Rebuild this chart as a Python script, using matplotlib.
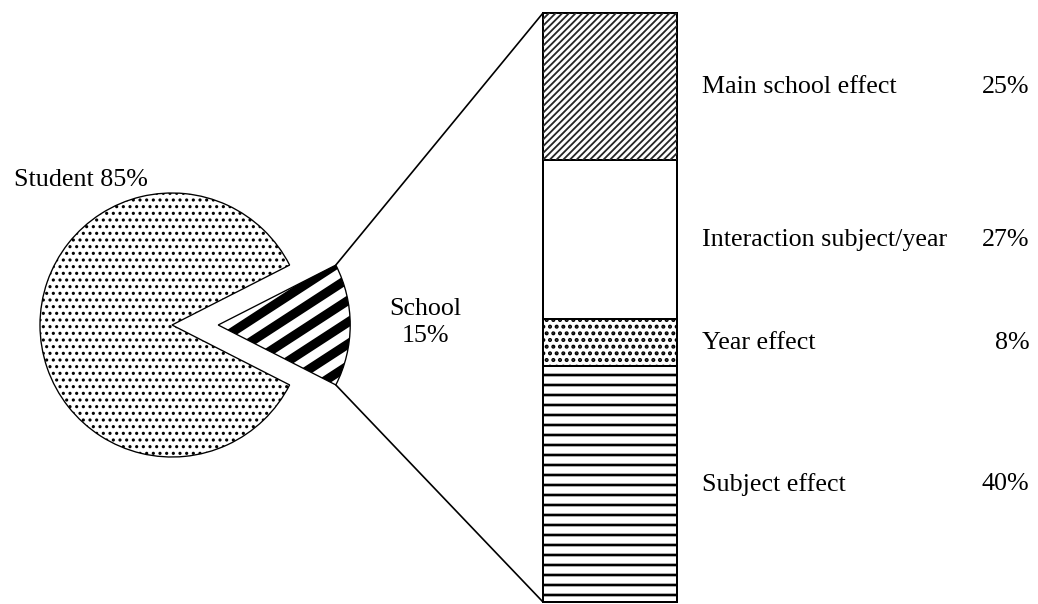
import numpy as np
import matplotlib.pyplot as plt
from matplotlib.patches import ConnectionPatch

plt.rcParams['font.family'] = ['Liberation Serif', 'DejaVu Serif']

# pie: school vs student share
pie_labels = ['School', 'Student']
pie_values = [15, 85]

# bar: breakdown of the school share, bottom to top
bar_labels = ['Subject effect', 'Year effect', 'Interaction subject/year', 'Main school effect']
bar_values = [40, 8, 27, 25]
bar_hatches = ['--', '...', '', '']

W, H, DPI = 1038, 604, 120
FS = 15.6
fig = plt.figure(figsize=(W / DPI, H / DPI), dpi=DPI)


def px_axes(x0, y0, x1, y1):
    # axes from a pixel box (top-left origin)
    return fig.add_axes((x0 / W, 1 - y1 / H, (x1 - x0) / W, (y1 - y0) / H))


R = 132
cx, cy = 172, 325
ax_pie = px_axes(cx - 1.05 * R, cy - 1.05 * R, cx + 1.4 * R, cy + 1.05 * R)
ax_bar = px_axes(543, 13, 677, 602)

# pie
plt.rcParams['hatch.linewidth'] = 1.1
wedges, _ = ax_pie.pie(pie_values, startangle=-pie_values[0] / 100 * 180,
                       explode=[0.35, 0], colors=['none', 'white'],
                       wedgeprops=dict(edgecolor='black', linewidth=0.8))
ax_pie.set_xlim(-1.05, 1.4)
ax_pie.set_ylim(-1.05, 1.05)
ax_pie.axis('off')

student = wedges[1]
student.set_hatch('...')
school = wedges[0]

# thick slanted stripes inside the school slice
ang = np.deg2rad(33)
xs = np.array([-1.0, 2.5])
for c in np.arange(-2.0, 2.0, 0.165):
    ln, = ax_pie.plot(xs, np.tan(ang) * xs + c, color='black', lw=5.5,
                      solid_capstyle='butt', zorder=0.5)
    ln.set_clip_path(school)

ax_pie.text(-0.689, 1.098, f'{pie_labels[1]} {pie_values[1]}%', ha='center', va='center', fontsize=FS)
ax_pie.text(1.917, 0.02, f'{pie_labels[0]}\n{pie_values[0]}%', ha='center', va='center',
            fontsize=FS, linespacing=1.3)

# stacked bar
plt.rcParams['hatch.linewidth'] = 1.6
bottoms = np.concatenate([[0], np.cumsum(bar_values)[:-1]])
bars = ax_bar.bar(0, bar_values, width=1, bottom=bottoms, color='white',
                  edgecolor='black', linewidth=1.2, clip_on=False, zorder=1)
for b, h in zip(bars, bar_hatches):
    b.set_hatch(h)
ax_bar.set_xlim(-0.5, 0.5)
ax_bar.set_ylim(0, sum(bar_values))
ax_bar.axis('off')

# fine 45 degree lines for the main school effect (drawn in axes fraction)
bw, bh = 134, 589
k = bw / bh
xs = np.array([0.0, 1.0])
for off in np.arange(-1.0, bh / bw + 1.0, 6.7 / bw):
    ln, = ax_bar.plot(xs, (xs + off) * k, transform=ax_bar.transAxes,
                      color='0.15', lw=1.1, zorder=2)
    ln.set_clip_path(bars[3])

tr = ax_bar.get_yaxis_transform()
for b, lab, v in zip(bars, bar_labels, bar_values):
    ymid = b.get_y() + b.get_height() / 2
    ax_bar.text(1.19, ymid, lab, transform=tr, ha='left', va='center', fontsize=FS)
    ax_bar.text(3.63, ymid, f'{v}%', transform=tr, ha='right', va='center', fontsize=FS)

# lines from slice corners to the bar
th1, th2 = np.deg2rad(school.theta1), np.deg2rad(school.theta2)
c0, r = school.center, school.r
top = (c0[0] + r * np.cos(th2), c0[1] + r * np.sin(th2))
bot = (c0[0] + r * np.cos(th1), c0[1] + r * np.sin(th1))
for xy_pie, y_bar in [(top, sum(bar_values)), (bot, 0)]:
    con = ConnectionPatch(xyA=xy_pie, coordsA=ax_pie.transData,
                          xyB=(-0.5, y_bar), coordsB=ax_bar.transData,
                          color='black', linewidth=1.0)
    fig.add_artist(con)

fig.savefig('out.png', dpi=DPI)
